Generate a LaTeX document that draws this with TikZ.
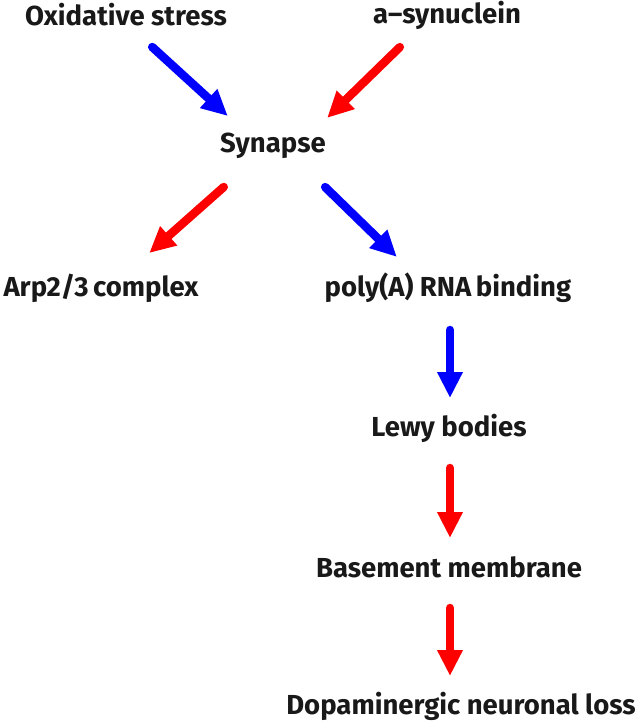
\documentclass[tikz,border=0pt]{standalone}
\usepackage{fontspec}
\setmainfont{Fira Sans}
\usetikzlibrary{arrows.meta}
\begin{document}
\begin{tikzpicture}[x=1pt,y=-1pt,
  lbl/.style={font=\fontsize{27.5}{30}\selectfont\bfseries, inner sep=0pt, text=black!90},
  arr/.style={line width=8.5pt, line cap=round, -{Triangle[length=26pt,width=24pt]}, shorten >=3pt, shorten <=3pt},
  bluearr/.style={arr, draw={rgb,255:red,0;green,0;blue,255}},
  redarr/.style={arr, draw={rgb,255:red,255;green,0;blue,0}}]
\useasboundingbox (0,0) rectangle (640,724);
\node[lbl] (ox) at (126,15) {Oxidative stress};
\node[lbl] (as) at (447,15) {a–synuclein};
\node[lbl] (syn) at (273,146) {Synapse};
\node[lbl] (arp) at (101,288) {Arp2/3\,complex};
\node[lbl] (poly) at (448,288) {poly(A) RNA\,binding};
\node[lbl] (lewy) at (449,428) {Lewy bodies};
\node[lbl] (base) at (449,567) {Basement membrane};
\node[lbl] (dop) at (461,706) {Dopaminergic neuronal loss};
\coordinate (b1s) at (150,45); \coordinate (b1e) at (230,118);
\coordinate (r1s) at (402,45); \coordinate (r1e) at (325,120);
\coordinate (r2s) at (226,185); \coordinate (r2e) at (147,255);
\coordinate (b2s) at (323,185); \coordinate (b2e) at (399,259);
\coordinate (b3s) at (450,327); \coordinate (b3e) at (450,401);
\coordinate (r3s) at (450,465); \coordinate (r3e) at (450,541);
\coordinate (r4s) at (450,605); \coordinate (r4e) at (450,679);
\draw[bluearr] (b1s) -- (b1e);
\draw[redarr] (r1s) -- (r1e);
\draw[redarr] (r2s) -- (r2e);
\draw[bluearr] (b2s) -- (b2e);
\draw[bluearr] (b3s) -- (b3e);
\draw[redarr] (r3s) -- (r3e);
\draw[redarr] (r4s) -- (r4e);
\end{tikzpicture}
\end{document}
